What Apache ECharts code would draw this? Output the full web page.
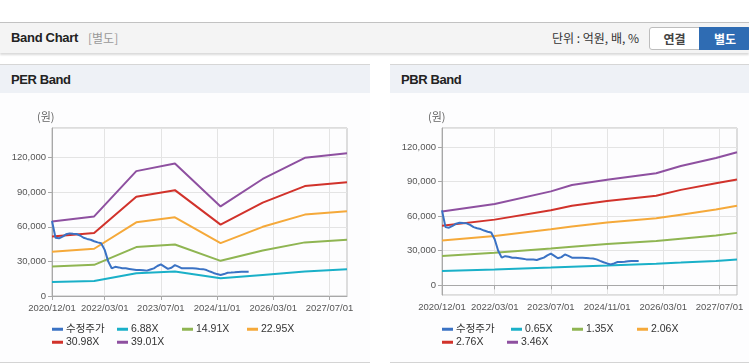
<!DOCTYPE html>
<html><head><meta charset="utf-8">
<script src="https://cdn.jsdelivr.net/npm/echarts@6/dist/echarts.min.js"></script>
<style>
html,body{margin:0;padding:0;width:749px;height:364px;overflow:hidden;background:#fff;font-family:'Liberation Sans','Noto Sans CJK KR',sans-serif;}
.abs{position:absolute;}
#hdr{left:0;top:22px;width:749px;height:30px;background:#f4f4f4;border-top:1px solid #c2c2c2;box-shadow:0 2px 2px rgba(0,0,0,0.15);}
#ttl{left:11px;top:29px;font-size:13px;font-weight:bold;color:#222;letter-spacing:-0.3px;line-height:18px;}
#sub{left:88px;top:30px;font-size:12px;color:#999;font-family:'Noto Sans CJK KR',sans-serif;line-height:16px;}
#unit{left:552px;top:30px;font-size:12px;color:#333;font-family:'Noto Sans CJK KR',sans-serif;line-height:16px;}
#b1{left:649px;top:27px;width:49px;height:21px;background:#fff;border:1px solid #bdbdbd;border-radius:3px 0 0 3px;font-size:12px;color:#444;text-align:center;line-height:21px;font-family:'Noto Sans CJK KR',sans-serif;font-weight:bold;}
#b2{left:699px;top:27px;width:52px;height:23px;background:#2f6cb3;border-radius:0 3px 3px 0;font-size:12px;color:#fff;text-align:center;line-height:23px;font-family:'Noto Sans CJK KR',sans-serif;font-weight:bold;}
.ph{top:64px;height:28px;background:#eef1f6;border-top:1px solid #d6d6d6;}
.pt{top:72px;font-size:13px;font-weight:bold;color:#222;letter-spacing:-0.4px;line-height:16px;}
.pb{top:93px;height:269px;background:#fdfdfe;border-bottom:1px solid #d4d4d4;}
#chart{left:0;top:0;width:749px;height:364px;}
</style></head>
<body>
<div id="hdr" class="abs"></div>
<div id="ttl" class="abs">Band Chart</div>
<div id="sub" class="abs">[별도]</div>
<div id="unit" class="abs">단위 : 억원, 배, %</div>
<div id="b1" class="abs">연결</div>
<div id="b2" class="abs">별도</div>
<div class="abs ph" style="left:0;width:370px;"></div>
<div class="abs ph" style="left:390px;width:359px;"></div>
<div class="abs pt" style="left:11px;">PER Band</div>
<div class="abs pt" style="left:401px;">PBR Band</div>
<div class="abs pb" style="left:0;width:370px;"></div>
<div class="abs pb" style="left:390px;width:359px;"></div>
<div id="chart" class="abs"></div>
<script>
// ---- categories (monthly) ----
const months = [
 '2020/12/01',
 '2021/01/01','2021/02/01','2021/03/01','2021/04/01','2021/05/01','2021/06/01','2021/07/01','2021/08/01','2021/09/01','2021/10/01','2021/11/01','2021/12/01',
 '2022/01/01','2022/02/01','2022/03/01','2022/04/01','2022/05/01','2022/06/01','2022/07/01','2022/08/01','2022/09/01','2022/10/01','2022/11/01','2022/12/01',
 '2023/01/01','2023/02/01','2023/03/01','2023/04/01','2023/05/01','2023/06/01','2023/07/01','2023/08/01','2023/09/01','2023/10/01','2023/11/01','2023/12/01',
 '2024/01/01','2024/02/01','2024/03/01','2024/04/01','2024/05/01','2024/06/01','2024/07/01','2024/08/01','2024/09/01','2024/10/01','2024/11/01','2024/12/01',
 '2025/01/01','2025/02/01','2025/03/01','2025/04/01','2025/05/01','2025/06/01','2025/07/01','2025/08/01','2025/09/01','2025/10/01','2025/11/01','2025/12/01',
 '2026/01/01','2026/02/01','2026/03/01','2026/04/01','2026/05/01','2026/06/01','2026/07/01','2026/08/01','2026/09/01','2026/10/01','2026/11/01','2026/12/01',
 '2027/01/01','2027/02/01','2027/03/01','2027/04/01','2027/05/01','2027/06/01','2027/07/01','2027/08/01','2027/09/01','2027/10/01','2027/11/01','2027/12/01'
];
const xTickLabels = ['2020/12/01','2022/03/01','2023/07/01','2024/11/01','2026/03/01','2027/07/01'];

// ---- adjusted stock price (monthly, from 2020/12) ----
const stockPrice = [
 65000,50500,50000,51500,53500,54300,54000,53800,52500,50500,49500,48800,
 47500,46500,45800,40000,30000,24000,25300,24800,24000,24000,23500,23000,
 22500,22500,22400,22000,23000,24000,26000,27500,25500,23500,24500,26800,
 25500,24000,24000,24000,24000,23800,23500,23300,22500,21200,20000,19000,
 18200,19000,20200,20300,20500,20800,21000,21000,21000
];

// ---- PER band ----
const perNames = ['6.88X','14.91X','22.95X','30.98X','39.01X'];
const perKeyDates = ['2020/12/01','2021/12/01','2022/12/01','2023/11/01','2024/12/01','2025/12/01','2026/12/01','2027/12/01'];
const per688  = [12200, 13100, 19700, 21200, 15300, 18300, 21200, 23200];
const per1491 = [25500, 27000, 42400, 44700, 30500, 39500, 46500, 48800];
const per2295 = [38300, 41000, 63900, 68200, 45900, 60000, 70600, 73500];
const per3098 = [51700, 54600, 86000, 91800, 61900, 81000, 95300, 98700];
const per3901 = [64700, 69000, 108300, 115000, 77700, 101500, 119800, 123700];

// ---- PBR band ----
const pbrNames = ['0.65X','1.35X','2.06X','2.76X','3.46X'];
const pbrKeyDates = ['2020/12/01','2022/03/01','2023/07/01','2024/01/01','2024/11/01','2026/01/01','2026/08/01','2027/06/01','2027/12/01'];
const pbr065 = [12400, 13700, 15500, 16200, 17100, 18700, 19700, 21200, 22300];
const pbr135 = [25500, 28300, 32000, 33500, 35800, 38500, 40500, 43300, 45500];
const pbr206 = [38800, 42700, 48700, 51000, 54500, 58200, 61300, 65700, 69000];
const pbr276 = [51600, 57000, 65200, 69000, 73200, 77700, 82800, 88500, 91800];
const pbr346 = [64100, 70500, 81500, 87000, 91600, 97200, 103500, 110400, 115500];

const colors = ['#3a72c4','#1ab0c8','#8fb552','#f5a93a','#d1322b','#8e50a0'];
const stockName = '수정주가';

const zip = (keys, vals) => keys.map((k, i) => [k, vals[i]]);
const isTick = (i, v) => xTickLabels.indexOf(months[i]) >= 0;

function makeX(gi) {
  return {
    type: 'category', gridIndex: gi, data: months, boundaryGap: false,
    axisLine: { lineStyle: { color: '#a8a8a8', width: 1 } },
    axisTick: { show: true, interval: isTick, length: 4, lineStyle: { color: '#a8a8a8' } },
    axisLabel: { interval: isTick, color: '#555', fontSize: 9.5, margin: 7, fontFamily: 'Liberation Sans' },
    splitLine: { show: true, interval: isTick, lineStyle: { color: '#e4e4e4', width: 1 } }
  };
}
function makeY(gi, extra) {
  return Object.assign({
    type: 'value', gridIndex: gi,
    axisLine: { show: true, lineStyle: { color: '#a8a8a8', width: 1 } },
    axisTick: { show: true, length: 4, lineStyle: { color: '#a8a8a8' } },
    axisLabel: { color: '#555', fontSize: 9.5, margin: 6, fontFamily: 'Liberation Sans', showMinLabel: extra.showMinLabel, showMaxLabel: false },
    splitLine: { show: true, lineStyle: { color: '#e4e4e4', width: 1 } }
  }, extra.opts);
}

function lineSeries(name, data, color, gi) {
  return {
    type: 'line', name: name, data: data, xAxisIndex: gi, yAxisIndex: gi,
    showSymbol: false, symbol: 'none', lineStyle: { color: color, width: 2 }, itemStyle: { color: color },
    z: name === stockName ? 5 : 3
  };
}

const series = [];
series.push(lineSeries(stockName, stockPrice, colors[0], 0));
[per688, per1491, per2295, per3098, per3901].forEach((v, i) => series.push(lineSeries(perNames[i], zip(perKeyDates, v), colors[i + 1], 0)));
series.push(lineSeries(stockName, stockPrice, colors[0], 1));
[pbr065, pbr135, pbr206, pbr276, pbr346].forEach((v, i) => series.push(lineSeries(pbrNames[i], zip(pbrKeyDates, v), colors[i + 1], 1)));

function leg(name, left, top) {
  return {
    data: [name], left: left, top: top, padding: 0, itemGap: 0, itemWidth: 11, itemHeight: 3, icon: 'rect',
    selectedMode: false,
    textStyle: { fontSize: 10.5, color: '#333', fontFamily: "'Liberation Sans','Noto Sans CJK KR'", padding: [0, 0, 0, -2] }
  };
}
const legends = [
  leg(stockName, 52, 324), leg(perNames[0], 117, 324), leg(perNames[1], 182, 324), leg(perNames[2], 247, 324),
  leg(perNames[3], 52, 337), leg(perNames[4], 117, 337),
  leg(stockName, 442, 324), leg(pbrNames[0], 511, 324), leg(pbrNames[1], 572, 324), leg(pbrNames[2], 637, 324),
  leg(pbrNames[3], 442, 337), leg(pbrNames[4], 507, 337)
];

const chart = echarts.init(document.getElementById('chart'), null, { renderer: 'canvas' });
chart.setOption({
  animation: false,
  backgroundColor: 'transparent',
  grid: [
    { left: 52, top: 128, width: 295, height: 168, show: true, borderColor: '#bdbdbd', borderWidth: 1, backgroundColor: 'transparent' },
    { left: 442, top: 128, width: 295, height: 167, show: true, borderColor: '#bdbdbd', borderWidth: 1, backgroundColor: 'transparent' }
  ],
  xAxis: [makeX(0), makeX(1)],
  yAxis: [
    makeY(0, { showMinLabel: true, opts: { min: 0, max: 145700, interval: 30000 } }),
    makeY(1, { showMinLabel: false, opts: { min: -8400, max: 136500, splitNumber: 5 } })
  ],
  legend: legends,
  graphic: [
    { type: 'text', left: 37, top: 111, style: { text: '(원)', fontSize: 11, fill: '#666', fontFamily: "'Noto Sans CJK KR'" } },
    { type: 'text', left: 428, top: 111, style: { text: '(원)', fontSize: 11, fill: '#666', fontFamily: "'Noto Sans CJK KR'" } }
  ],
  series: series
});
</script>
</body></html>
